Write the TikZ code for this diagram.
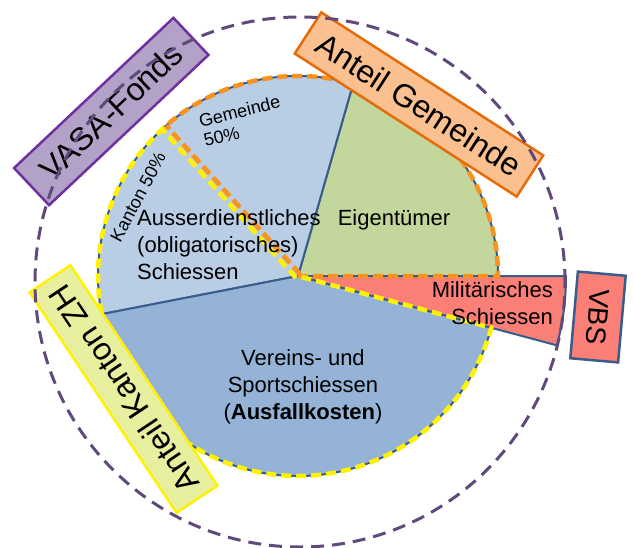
\documentclass[tikz,border=0pt]{standalone}
\usepackage{fontspec}
\setmainfont{Liberation Sans}
\usetikzlibrary{calc}
\definecolor{hellblau}{HTML}{B9CDE5}
\definecolor{mittelblau}{HTML}{95B3D7}
\definecolor{gruen}{HTML}{C3D69B}
\definecolor{rot}{HTML}{FA7F77}
\definecolor{rand}{HTML}{385D8A}
\definecolor{orangestrich}{HTML}{F7931E}
\definecolor{orangerand}{HTML}{E46C0A}
\definecolor{orangefill}{HTML}{FAC090}
\definecolor{lila}{HTML}{B3A2C7}
\definecolor{lilarand}{HTML}{7030A0}
\definecolor{gelbfill}{HTML}{E8EF9E}
\definecolor{kreis}{HTML}{604A7B}

\begin{document}
\begin{tikzpicture}[x=1pt, y=1pt,
                    every node/.style={font=\fontsize{22}{27}\selectfont, inner sep=0pt},
                    slice/.style={draw=rand, line width=2pt, line join=round},
                    gemline/.style={draw=orangestrich, line width=4.5pt, dash pattern=on 10pt off 5pt},
                    kanline/.style={draw=yellow, line width=4.5pt, dash pattern=on 10pt off 5pt},
                    anteil/.style={draw, line width=2.5pt, minimum height=49pt, font=\fontsize{32}{36}\selectfont}]
    \useasboundingbox (0,0) rectangle (634,547);
    \coordinate (C) at (298,271);

    % Tortenstuecke
    \filldraw[slice, fill=gruen] (C) -- ++(0:200) arc[start angle=0, end angle=74, radius=200pt] -- cycle;
    \filldraw[slice, fill=hellblau] (C) -- ++(74:200) arc[start angle=74, end angle=191, radius=200pt] -- cycle;
    \filldraw[slice, fill=mittelblau] (C) -- ++(191:200) arc[start angle=191, end angle=345, radius=200pt] -- cycle;
    \filldraw[slice, fill=rot] (C) -- ++(-15:268) arc[start angle=-15, end angle=0, radius=268pt] -- cycle;

    % Anteile Gemeinde / Kanton
    \draw[gemline] (C) -- ++(0:200) arc[start angle=0, end angle=132, radius=200pt];
    \draw[gemline] ($(C)+(42:2.8)$) -- ++(132:200);
    \draw[kanline] ($(C)+(222:2.8)$) -- ++(132:200);
    \draw[kanline] (C) ++(132:200) arc[start angle=132, end angle=345, radius=200pt] -- (C);

    % Texte
    \node (ausser) [anchor=west, align=left] at (137,302.5) {Ausserdienstliches\\(obligatorisches)\\Schiessen};
    \node (eigen) at (394,327) {Eigentümer};
    \node (militaer) [anchor=east, align=right] at (553,243.5) {Militärisches\\Schiessen};
    \node (verein) [align=center] at (303,160.5) {Vereins- und\\Sportschiessen\\(\textbf{Ausfallkosten})};
    \node (gemeinde) [rotate=14, align=left, font=\fontsize{18}{20}\selectfont] at (242,426) {Gemeinde\\50\%};
    \node (kanton) [rotate=62, font=\fontsize{18}{20}\selectfont] at (138,350) {Kanton 50\%};

    % Kaesten
    \node (vasa) [anteil, draw=lilarand, fill=lila, rotate=43.3, minimum width=219pt, minimum height=51pt] at (111.25,435.5) {VASA-Fonds};
    \node (agem) [anteil, draw=orangerand, fill=orangefill, rotate=-32.8, minimum width=264pt] at (419,442.5) {Anteil Gemeinde};
    \node (akan) [anteil, draw=yellow, fill=gelbfill, rotate=123.7, minimum width=265pt] at (123.5,158) {Anteil Kanton ZH};
    \node (vbs) [anteil, draw=rand, fill=rot, rotate=-95, minimum width=87pt, minimum height=48pt, font=\fontsize{28}{30}\selectfont] at (598,230) {VBS};

    \draw[kreis, line width=3pt, dash pattern=on 13pt off 8pt] (300,265) circle[radius=265pt];
\end{tikzpicture}
\end{document}
